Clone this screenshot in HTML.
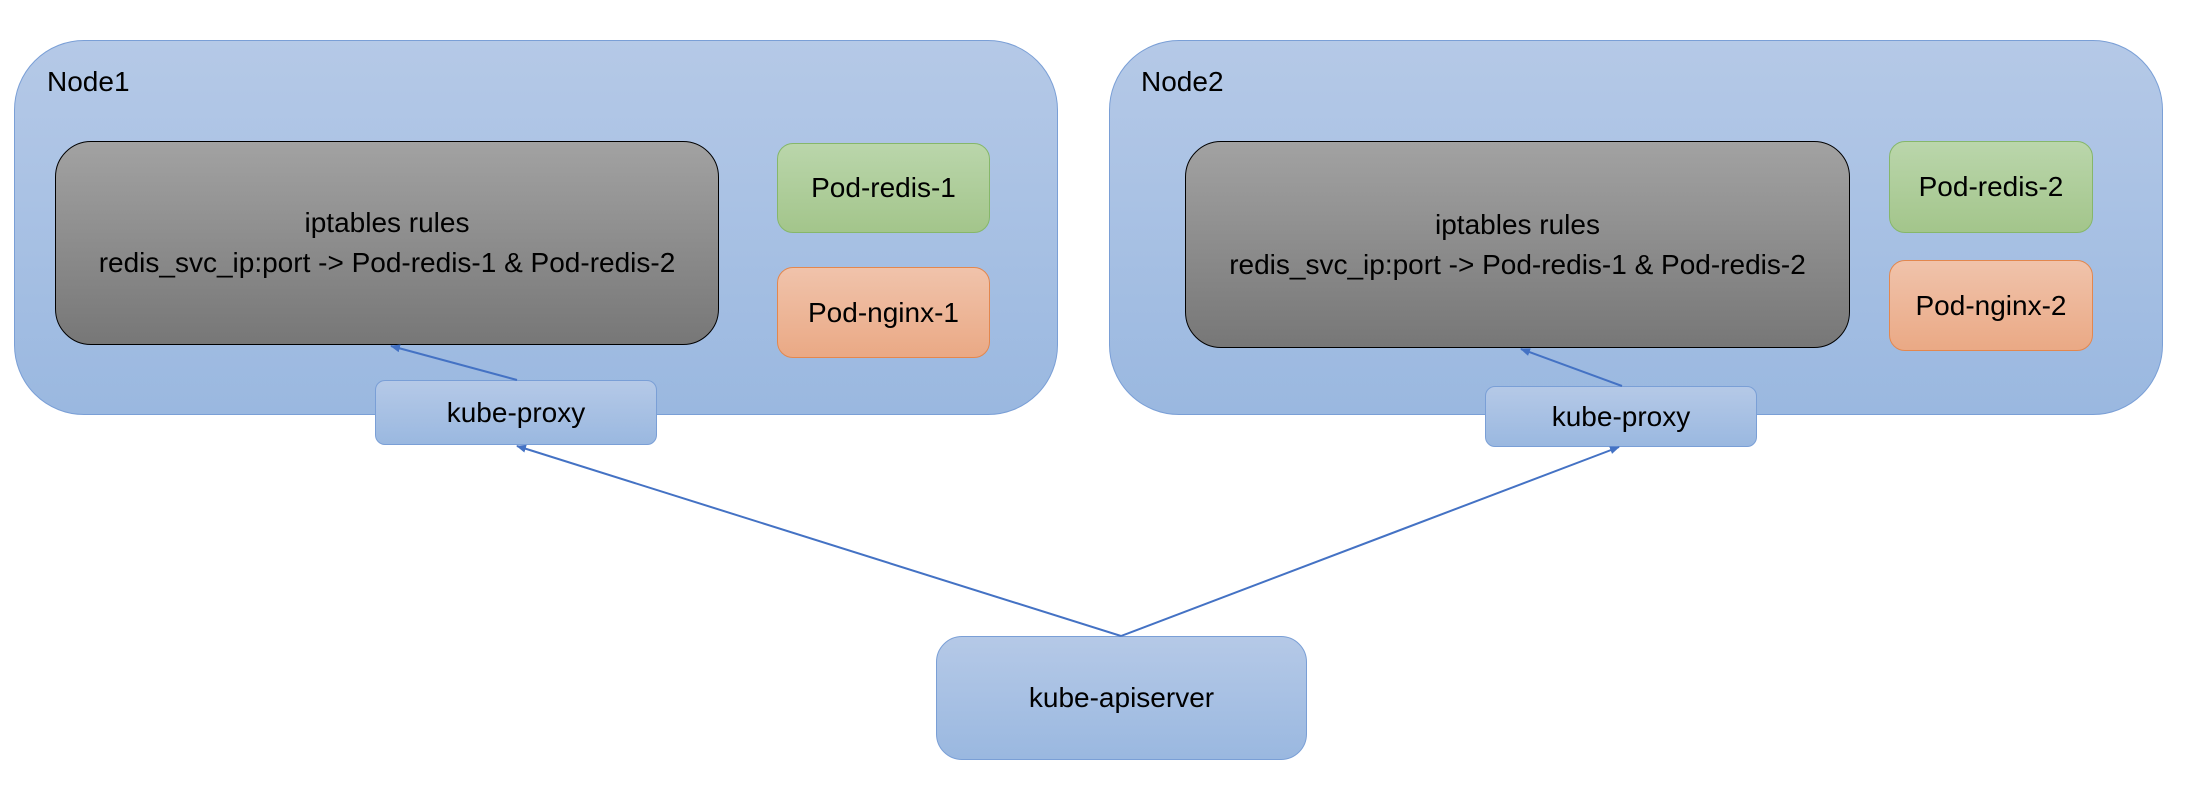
<!DOCTYPE html>
<html><head><meta charset="utf-8"><style>
body{margin:0;width:2192px;height:804px;background:#fff;position:relative;overflow:hidden;font-family:"Liberation Sans",sans-serif;color:#000}
.b{position:absolute;box-sizing:border-box;display:flex;align-items:center;justify-content:center;text-align:center;font-size:28px;line-height:40px}
.node{background:linear-gradient(#b5c9e7,#9ab8e0);border:1.5px solid #7a9fd6;border-radius:70px}
.ipt{background:linear-gradient(#a2a2a2,#777);border:1.5px solid #000;border-radius:36px}
.g{background:linear-gradient(#bad6ab,#a3c58b);border:1.5px solid #86b76a;border-radius:16px}
.o{background:linear-gradient(#f0c3ab,#eaa985);border:1.5px solid #e3874e;border-radius:16px}
.kp{background:linear-gradient(#b5c9e7,#9ab8e0);border:1.5px solid #7a9fd6;border-radius:10px}
.lbl{position:absolute;font-size:28px}
</style></head><body>
<div class="b node" style="left:14px;top:40px;width:1044px;height:375px"></div>
<div class="lbl" style="left:47px;top:66px">Node1</div>
<div class="b ipt" style="left:55px;top:141px;width:664px;height:204px">iptables rules<br>redis_svc_ip:port -&gt; Pod-redis-1 &amp; Pod-redis-2</div>
<div class="b g" style="left:777px;top:143px;width:213px;height:90px">Pod-redis-1</div>
<div class="b o" style="left:777px;top:267px;width:213px;height:91px">Pod-nginx-1</div>

<div class="b node" style="left:1109px;top:40px;width:1054px;height:375px"></div>
<div class="lbl" style="left:1141px;top:66px">Node2</div>
<div class="b ipt" style="left:1185px;top:141px;width:665px;height:207px">iptables rules<br>redis_svc_ip:port -&gt; Pod-redis-1 &amp; Pod-redis-2</div>
<div class="b g" style="left:1889px;top:141px;width:204px;height:92px">Pod-redis-2</div>
<div class="b o" style="left:1889px;top:260px;width:204px;height:91px">Pod-nginx-2</div>

<div class="b kp" style="left:375px;top:380px;width:282px;height:65px">kube-proxy</div>
<div class="b kp" style="left:1485px;top:386px;width:272px;height:61px">kube-proxy</div>
<div class="b kp" style="left:936px;top:636px;width:371px;height:124px;border-radius:26px">kube-apiserver</div>

<svg width="2192" height="804" style="position:absolute;left:0;top:0">
<defs><marker id="a" markerWidth="10" markerHeight="8" refX="9" refY="4" orient="auto" markerUnits="userSpaceOnUse"><path d="M0,0 L10,4 L0,8 Z" fill="#4472c4"/></marker></defs>
<g stroke="#4472c4" stroke-width="2" fill="none">
<line x1="1121" y1="636" x2="517" y2="446" marker-end="url(#a)"/>
<line x1="1121" y1="636" x2="1619" y2="447" marker-end="url(#a)"/>
<line x1="517" y1="380" x2="391" y2="346" marker-end="url(#a)"/>
<line x1="1622" y1="386" x2="1521" y2="349" marker-end="url(#a)"/>
</g></svg>
</body></html>
